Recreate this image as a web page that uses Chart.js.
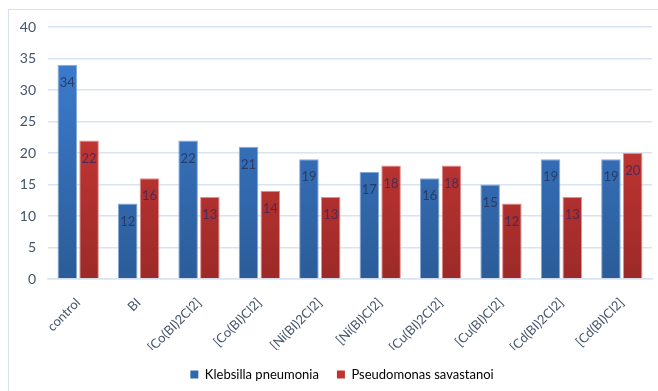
<!DOCTYPE html>
<html>
<head>
<meta charset="utf-8">
<script src="https://cdn.jsdelivr.net/npm/chart.js@4.4.1/dist/chart.umd.min.js"></script>
<style>
  html, body { margin: 0; padding: 0; background: #fff; overflow: hidden; }
  #frame {
    position: absolute; left: 8px; top: 9px; width: 660px; height: 400px;
    border: 1px solid #d6e2f0; box-sizing: border-box;
  }
  #wrap { position: absolute; left: 0; top: 0; width: 658px; height: 392px; }
</style>
</head>
<body>
<div id="frame"></div>
<div id="wrap"><canvas id="chart" width="658" height="392"></canvas></div>
<script>
// Inhibition zones per compound
const compounds = ['control', 'BI', '[Co(BI)2Cl2]', '[Co(BI)Cl2]', '[Ni(BI)2Cl2]', '[Ni(BI)Cl2]',
                   '[Cu(BI)2Cl2]', '[Cu(BI)Cl2]', '[Cd(BI)2Cl2]', '[Cd(BI)Cl2]'];
const klebsiella = [34, 12, 22, 21, 19, 17, 16, 15, 19, 19];
const pseudomonas = [22, 16, 13, 14, 13, 18, 18, 12, 13, 20];
const yTicks = [0, 5, 10, 15, 20, 25, 30, 35, 40];

const axisColor = '#44546a';
const gridColor = '#d9e4f2';
const fontFamily = 'Lato, "Open Sans", sans-serif';

// vertical gradient fill for bars
function barGradient(ctx, top, bottom) {
    const chart = ctx.chart;
    const area = chart.chartArea;
    if (!area) return top;
    const g = chart.ctx.createLinearGradient(0, area.top, 0, area.bottom);
    g.addColorStop(0, top);
    g.addColorStop(1, bottom);
    return g;
}

// value labels drawn just inside the top of each bar
const valueLabels = {
    id: 'valueLabels',
    afterDatasetsDraw(chart) {
        const ctx = chart.ctx;
        ctx.save();
        ctx.font = '13px ' + fontFamily;
        ctx.textAlign = 'center';
        ctx.textBaseline = 'middle';
        chart.data.datasets.forEach((ds, i) => {
            ctx.fillStyle = i === 0 ? 'rgba(40,52,88,0.85)' : 'rgba(60,40,90,0.85)';
            chart.getDatasetMeta(i).data.forEach((bar, j) => {
                ctx.fillText(String(ds.data[j]), bar.x, bar.y + 18);
            });
        });
        ctx.restore();
    }
};

// push the legend a bit right of the canvas centre
const legendShift = {
    id: 'legendShift',
    afterLayout(chart) {
        if (chart.legend) {
            chart.legend.left += 11;
            chart.legend.right += 11;
        }
    }
};

new Chart(document.getElementById('chart'), {
    type: 'bar',
    data: {
        labels: compounds,
        datasets: [{
            label: 'Klebsilla pneumonia',
            data: klebsiella,
            backgroundColor: ctx => barGradient(ctx, '#3e80d5', '#2b5c98'),
            borderColor: 'rgba(120,160,215,0.9)',
            borderWidth: 1,
        }, {
            label: 'Pseudomonas savastanoi',
            data: pseudomonas,
            backgroundColor: ctx => barGradient(ctx, '#db3e3c', '#9c2a28'),
            borderColor: 'rgba(225,130,130,0.9)',
            borderWidth: 1,
        }]
    },
    options: {
        responsive: false,
        animation: false,
        devicePixelRatio: 1,
        layout: { padding: { top: 27, right: 6, left: 10, bottom: 1 } },
        datasets: { bar: { categoryPercentage: 0.72, barPercentage: 0.9 } },
        scales: {
            y: {
                min: 0, max: 40,
                afterBuildTicks: scale => { scale.ticks = yTicks.map(v => ({ value: v })); },
                afterFit: scale => { scale.width = 38; },
                border: { display: false },
                grid: { color: gridColor, lineWidth: 1.5, drawTicks: false },
                ticks: { color: axisColor, font: { family: fontFamily, size: 14 }, padding: 12 }
            },
            x: {
                afterFit: scale => { scale.height = 71; },
                border: { color: gridColor, width: 1.5 },
                grid: { display: false },
                ticks: {
                    color: axisColor, font: { family: fontFamily, size: 13 },
                    minRotation: 45, maxRotation: 45, padding: 8
                }
            }
        },
        plugins: {
            legend: {
                position: 'bottom',
                labels: {
                    color: axisColor, font: { family: fontFamily, size: 13 },
                    boxWidth: 8, boxHeight: 8, padding: 18,
                    generateLabels: chart => chart.data.datasets.map((ds, i) => ({
                        text: ds.label,
                        fillStyle: i === 0 ? '#2f68b0' : '#c0332f',
                        strokeStyle: 'transparent',
                        lineWidth: 0,
                        datasetIndex: i
                    }))
                }
            },
            tooltip: { enabled: false }
        }
    },
    plugins: [valueLabels, legendShift]
});
</script>
</body>
</html>
